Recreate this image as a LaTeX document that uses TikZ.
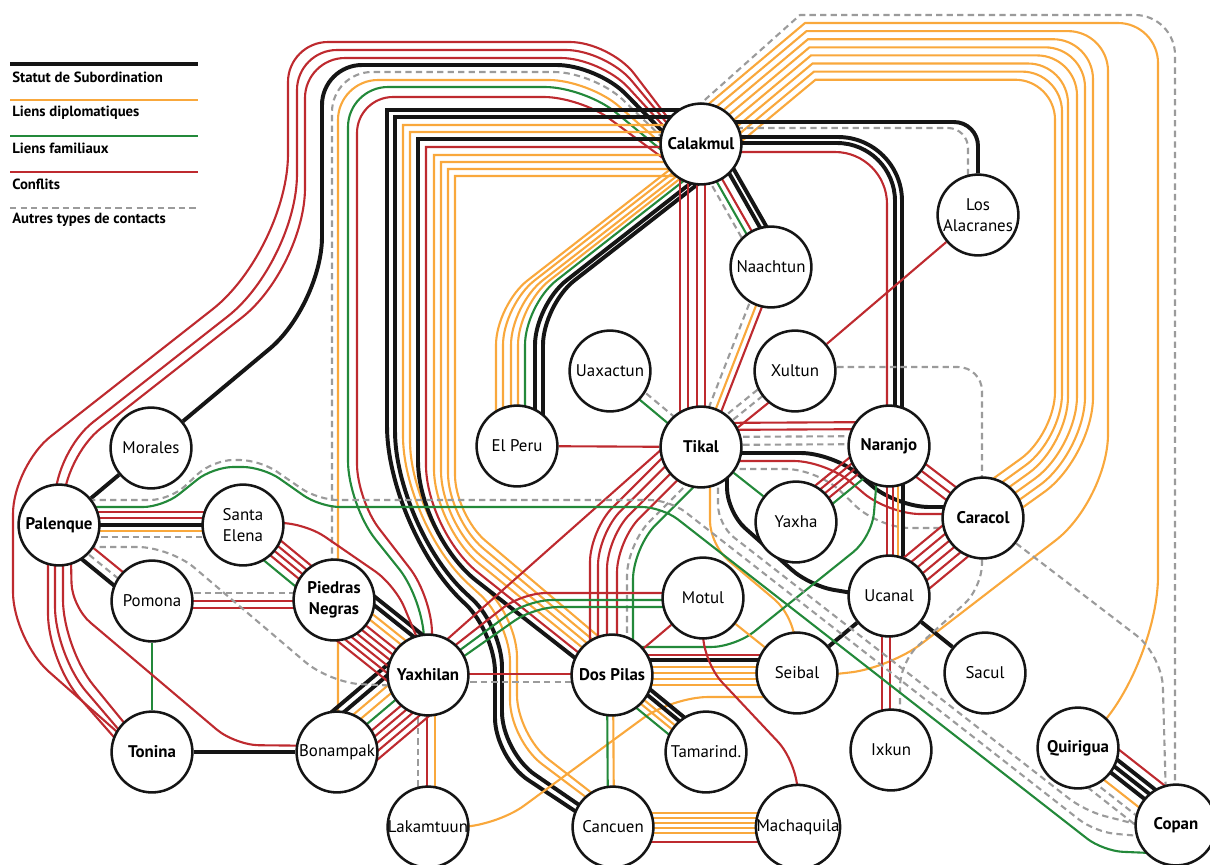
\documentclass[tikz,border=0pt]{standalone}
\usepackage{fontspec}
\setmainfont{PT Sans}
\usetikzlibrary{calc}
\definecolor{noir}{HTML}{151515}
\definecolor{orangeL}{HTML}{F9A83C}
\definecolor{vertL}{HTML}{23893A}
\definecolor{rougeL}{HTML}{BE2A2F}
\definecolor{grisL}{HTML}{9B9B9B}
\pgfdeclarelayer{liens}
\pgfsetlayers{liens,main}
\begin{document}
\begin{tikzpicture}[x=0.025cm, y=-0.025cm,
    subord/.style={draw=noir, line width=2.8pt},
    diplo/.style={draw=orangeL, line width=1.5pt},
    famil/.style={draw=vertL, line width=1.5pt},
    confl/.style={draw=rougeL, line width=1.5pt},
    autre/.style={draw=grisL, line width=1.5pt, dash pattern=on 4.5pt off 3pt},
    site/.style={circle, draw=noir, line width=1.8pt, fill=white, minimum size=2.02cm, inner sep=0pt, align=center, font=\fontsize{12}{15}\selectfont},
    capitale/.style={site, font=\fontsize{12}{15}\selectfont\bfseries},
    legende/.style={anchor=west, inner sep=0pt, font=\fontsize{10.5}{12}\selectfont\bfseries}]
                \useasboundingbox (0,0) rectangle (1210,864);

                % Legende
                \draw[subord] (10,64) -- (198,64);
                \node[legende] (lsub) at (12,77) {Statut de Subordination};
                \draw[diplo] (10,100) -- (198,100);
                \node[legende] (ldip) at (12,113) {Liens diplomatiques};
                \draw[famil] (10,136) -- (198,136);
                \node[legende] (lfam) at (12,148) {Liens familiaux};
                \draw[confl] (10,172) -- (198,172);
                \node[legende] (lcon) at (12,184) {Conflits};
                \draw[autre] (10,208) -- (198,208);
                \node[legende] (laut) at (12,220) {Autres types de contacts};

                % Sites
                \node[capitale] (cal) at (701,144) {Calakmul};
                \node[site] (lal) at (978,215) {Los\\Alacranes};
                \node[site] (nac) at (771,267) {Naachtun};
                \node[site] (uax) at (610,371) {Uaxactun};
                \node[site] (xul) at (795,371) {Xultun};
                \node[site] (elp) at (517,446) {El Peru};
                \node[capitale] (tik) at (701,447) {Tikal};
                \node[capitale] (nar) at (889,446) {Naranjo};
                \node[site] (mor) at (151,448) {Morales};
                \node[capitale] (pal) at (59,525) {Palenque};
                \node[site] (sel) at (243,525) {Santa\\Elena};
                \node[site] (yxa) at (796,522) {Yaxha};
                \node[capitale] (car) at (983,518) {Caracol};
                \node[site] (pom) at (152,601) {Pomona};
                \node[capitale] (pne) at (334,600) {Piedras\\Negras};
                \node[site] (mot) at (703,598) {Motul};
                \node[site] (uca) at (889,596) {Ucanal};
                \node[capitale] (yax) at (428,675) {Yaxhilan};
                \node[capitale] (dpi) at (612,675) {Dos Pilas};
                \node[site] (seb) at (797,673) {Seibal};
                \node[site] (sac) at (985,673) {Sacul};
                \node[capitale] (ton) at (152,752) {Tonina};
                \node[site] (bon) at (337,752) {Bonampak};
                \node[site] (tam) at (706,752) {Tamarind.};
                \node[site] (ixk) at (891,750) {Ixkun};
                \node[capitale] (qui) at (1078,748) {Quirigua};
                \node[site] (lak) at (428,827) {Lakamtuun};
                \node[site] (can) at (613,827) {Cancuen};
                \node[site] (mac) at (798,827) {Machaquila};
                \node[capitale] (cop) at (1176,825) {Copan};

                \begin{pgfonlayer}{liens}
                % Calakmul vers l'ouest
                \draw[confl] ($(cal)+(-30,-22)$) [rounded corners=1cm] -- (610,42) -- (288,42) [rounded corners=2.4cm] -- (288,250) [rounded corners=1.2cm] -- (13,466) -- (13,640) -- ($(ton)+(-28,-14)$);
                \draw[confl] ($(cal)+(-30,-16)$) [rounded corners=1cm] -- (606,50) -- (297,50) [rounded corners=2.2cm] -- (297,262) [rounded corners=1.2cm] -- (55,452) -- (55,655) -- ($(ton)+(-27,-15)$);
                \draw[confl] ($(cal)+(-30,-10)$) [rounded corners=1cm] -- (601,58) -- (305,58) [rounded corners=2cm] -- (305,268) [rounded corners=1.2cm] -- (63,458) -- (63,648) -- ($(ton)+(-22,-22)$);
                \draw[subord] ($(cal)+(-30,-4)$) [rounded corners=1cm] -- (597,65) -- (322,65) [rounded corners=1.7cm] -- (322,305) [rounded corners=1cm] -- (mor);
                \draw[autre] ($(cal)+(-30,2)$) [rounded corners=1cm] -- (594,72) -- (332,72) [rounded corners=1.5cm] -- ($(pne)+(-2,0)$);
                \draw[diplo] ($(cal)+(-30,8)$) [rounded corners=1cm] -- (589,80) -- (338,80) [rounded corners=1.3cm] -- ($(bon)+(1,0)$);
                \draw[famil] ($(cal)+(-30,14)$) [rounded corners=1cm] -- (585,87) -- (348,87) [rounded corners=1.1cm] -- (348,505) [rounded corners=1cm] -- (424,600) -- ($(yax)+(-4,0)$);
                \draw[confl] ($(cal)+(-30,20)$) [rounded corners=0.9cm] -- (580,97) -- (357,97) -- (357,500) -- (432,597) -- ($(yax)+(4,0)$);

                % Calakmul vers Cancuen et Dos Pilas
                \foreach \s/\yt/\xv/\rr/\ya/\xb/\yd/\yb/\ex/\ey in {subord/110/387/2.6/530/495/632/758/-32/-12, subord/117/395/2.4/527/502/627/752/-28/-18, diplo/125/403/2.2/524/510/622/740/-22/-26, diplo/132/410/2/521/517/617/735/-16/-30}
                    \draw[\s] ($(cal)+(-15,{\yt-144})$) -- (\xv,\yt) [rounded corners=\rr cm] -- (\xv,\ya) [rounded corners=1cm] -- (\xb,\yd) -- (\xb,\yb) -- ($(can)+(\ex,\ey)$);
                \foreach \s/\yt/\xv/\rr/\ya/\ex/\ey in {subord/139/418/1.85/535/-28/-10, confl/147/426/1.65/531/-24.5/-15.2, diplo/155/434/1.45/527/-21/-20.4, diplo/162/441/1.3/523/-17.5/-25.6, diplo/169/448/1.15/519/-14/-30.8, diplo/176/455/1/515/-10.5/-36}
                    \draw[\s] ($(cal)+(-15,{\yt-144})$) -- (\xv,\yt) [rounded corners=\rr cm] -- (\xv,\ya) [rounded corners=1.2cm] -- ($(dpi)+(\ex,\ey)$);

                % Calakmul - El Peru
                \foreach \s/\dx/\ex/\ey in {diplo/-21/-15/13, diplo/-14/-13/17, diplo/-6/-10/21, diplo/1/-8/24.5, famil/8/-6/28, subord/18/-1/32, subord/26/2/36}
                    \draw[\s, rounded corners=1cm] ($(elp)+(\dx,0)$) -- ({517+\dx},305) -- ($(cal)+(\ex,\ey)$);

                % Calakmul vers l'est
                \draw[autre] ($(cal)+(-12,-30)$) -- (800,15) [rounded corners=1cm] -- (1175,15) [rounded corners=2.5cm] -- ($(cop)+(-1,-20)$);
                \draw[diplo] ($(cal)+(-3,-31)$) -- (805,23) [rounded corners=1cm] -- (1158,23) [rounded corners=2.1cm] -- (1158,660) [rounded corners=1cm] -- ($(qui)+(22,-22)$);
                \draw[diplo] ($(cal)+(1.7,-25.7)$) -- (806.5,31.1) [rounded corners=1cm] -- (1108,31.1) [rounded corners=1.65cm] -- (1108,500) [rounded corners=1cm] -- (890,668) -- ($(seb)+(30,2)$);
                \foreach \k/\xr/\rr/\yc/\ex/\ey in {2/1093/1.5/457/25/0, 3/1085/1.4/452.6/20/-6.4, 4/1077/1.3/448.3/15/-12.8, 5/1068/1.2/444.8/10/-19.2, 6/1062/1.12/439/5/-25.6, 7/1055/1.05/434/0/-32}
                    \draw[diplo] ($(cal)+({-3+4.7*\k},{-31+5.3*\k})$) -- ({805+1.5*\k},{23+8.1*\k}) [rounded corners=1cm] -- (\xr,{23+8.1*\k}) [rounded corners=\rr cm] -- (\xr,\yc) [rounded corners=1cm] -- ($(car)+(\ex,\ey)$);
                \draw[subord, rounded corners=0.6cm] ($(cal)+(25,-22)$) -- (978,122) -- (lal);
                \draw[autre, rounded corners=0.5cm] ($(cal)+(25,-16)$) -- (968,128) -- ($(lal)+(-10,0)$);
                \draw[subord, rounded corners=1.6cm] ($(cal)+(30,-7)$) -- (902,137) -- ($(nar)+(13,0)$);
                \draw[subord, rounded corners=1.45cm] ($(cal)+(30,-1)$) -- (895,143) -- ($(nar)+(6,0)$);
                \draw[confl, rounded corners=1.3cm] ($(cal)+(30,8)$) -- (887,152) -- ($(nar)+(-2,0)$);

                % Calakmul - Tikal, Naachtun
                \foreach \dx in {-21,-13,-4,4}
                    \draw[confl] ($(cal)+(\dx,0)$) -- ($(tik)+(\dx,0)$);
                \foreach \s/\o in {autre/-11, famil/-5, confl/1, subord/10, subord/16}
                    \draw[\s] ($(cal)+({0.869*\o},{-0.495*\o})$) -- ($(nac)+({0.869*\o},{-0.495*\o})$);
                \foreach \s/\o in {autre/-7, diplo/0, confl/6}
                    \draw[\s] ($(nac)+({0.933*\o},{0.363*\o})$) -- ($(tik)+({0.933*\o},{0.363*\o})$);

                % Tikal
                \draw[confl] (elp) -- (tik);
                \foreach \s/\o in {famil/-3, autre/6}
                    \draw[\s] ($(uax)+({0.641*\o},{-0.767*\o})$) -- ($(tik)+({0.641*\o},{-0.767*\o})$);
                \foreach \s/\o in {autre/-9, autre/-1, confl/8}
                    \draw[\s] ($(tik)+({0.629*\o},{0.778*\o})$) -- ($(xul)+({0.629*\o},{0.778*\o})$);
                \draw[confl] (lal) -- (xul);
                \foreach \s/\o in {confl/-24, confl/-17, autre/-10, autre/-2}
                    \draw[\s] ($(tik)+(0,\o)$) -- ($(nar)+(0,\o)$);
                \draw[subord, rounded corners=0.8cm] ($(tik)+(30,6)$) -- (833,453) -- (897,507) -- ($(car)+(-20,-11)$);
                \draw[confl, rounded corners=0.8cm] ($(tik)+(30,14)$) -- (826,461) -- (888,514) -- ($(car)+(-20,-4)$);
                \draw[autre, rounded corners=0.8cm] ($(tik)+(28,22)$) -- (818,469) -- (878,528) -- ($(car)+(-20,10)$);
                \draw[subord, rounded corners=0.6cm] ($(tik)+(26,28)$) -- (727,512) -- (810,586) -- ($(uca)+(0,3)$);
                \draw[famil] (tik) -- (yxa);
                \draw[diplo, rounded corners=0.6cm] ($(tik)+(9,20)$) -- (710,545) -- (793,615) -- (seb);
                \foreach \s/\dx/\yc/\e in {confl/-22/530/-14, confl/-14/533.5/-8.25, confl/-5/537/-2, confl/5/540.5/4.75, autre/15/544/11.5, famil/21/547.5/16.25}
                    \draw[\s, rounded corners=0.8cm] ($(dpi)+(\dx,0)$) -- ({612+\dx},\yc) -- ($(tik)+(\e,\e)$);

                % Naranjo, Caracol, Ucanal
                \foreach \s/\o in {confl/-16, confl/-10, confl/-4, confl/2, famil/9}
                    \draw[\s] ($(nar)+({0.633*\o},{0.775*\o})$) -- ($(yxa)+({0.633*\o},{0.775*\o})$);
                \foreach \o in {-8,0,8}
                    \draw[confl] ($(nar)+({-0.608*\o},{0.794*\o})$) -- ($(car)+({-0.608*\o},{0.794*\o})$);
                \foreach \s/\dx in {confl/-2, confl/4, diplo/9, subord/14}
                    \draw[\s] ($(nar)+(\dx,0)$) -- ($(uca)+(\dx,0)$);
                \foreach \o in {-20,-12,-4,4,12,20}
                    \draw[confl] ($(car)+({0.64*\o},{0.77*\o})$) -- ($(uca)+({0.64*\o},{0.77*\o})$);
                \draw[famil, rounded corners=0.6cm] ($(dpi)+(25,-28)$) -- (735,647) -- (872,537) -- ($(nar)+(-12,30)$);
                \draw[subord] (seb) -- (uca);
                \draw[subord] (uca) -- (sac);
                \foreach \dx in {-7,1}
                    \draw[confl] ($(uca)+(\dx,0)$) -- ($(ixk)+({\dx-2},0)$);
                \draw[autre, rounded corners=0.6cm] ($(xul)+(0,-4)$) -- (982,367) -- (982,588) -- (900,662) -- ($(ixk)+(9,0)$);
                \draw[autre, rounded corners=0.8cm] (car) -- (1162,655) -- ($(cop)+(-10,-25)$);

                % Dos Pilas, Motul, Seibal
                \foreach \s/\o in {confl/-20, subord/-15, diplo/-8, diplo/-2, diplo/4, diplo/10}
                    \draw[\s] ($(dpi)+(0,\o)$) -- ($(seb)+(0,{\o+2})$);
                \draw[diplo, rounded corners=0.9cm] ($(lak)+(30,0)$) -- (495,827) -- (672,697) -- ($(seb)+(0,24)$);
                \foreach \s/\o in {subord/13, subord/7, diplo/1, diplo/-4, famil/-10}
                    \draw[\s] ($(dpi)+({0.634*\o},{-0.774*\o})$) -- ($(tam)+({0.634*\o},{-0.774*\o})$);
                \foreach \s/\dx in {famil/-5, diplo/1}
                    \draw[\s] ($(dpi)+(\dx,0)$) -- ($(can)+(\dx,0)$);
                \foreach \s/\o in {diplo/-14, diplo/-9, diplo/-4, diplo/1, diplo/6, confl/15}
                    \draw[\s] ($(can)+(0,\o)$) -- ($(mac)+(0,\o)$);
                \draw[confl, rounded corners=0.7cm] ($(mot)+(0,30)$) -- (703,662) -- (797,762) -- (mac);
                \draw[confl] (mot) -- (dpi);
                \draw[diplo] (mot) -- (seb);

                % Yaxhilan
                \draw[confl, rounded corners=0.6cm] ($(yax)+(25,-28)$) -- (522,593) -- ($(mot)+(0,-5)$);
                \draw[famil, rounded corners=0.6cm] ($(yax)+(28,-22)$) -- (528,600) -- ($(mot)+(0,2)$);
                \draw[famil, rounded corners=0.6cm] ($(yax)+(32,-16)$) -- (534,607) -- ($(mot)+(0,9)$);
                \draw[confl] ($(yax)+(15,-32)$) -- ($(tik)+(-12,-22)$);
                \draw[confl] ($(yax)+(0,-1)$) -- ($(dpi)+(0,-1)$);
                \draw[autre] ($(yax)+(0,7)$) -- ($(dpi)+(0,7)$);
                \foreach \s/\dx in {autre/-10, confl/-1, diplo/7}
                    \draw[\s] ($(yax)+(\dx,0)$) -- ($(lak)+(\dx,0)$);
                \foreach \s/\o in {subord/-34, subord/-26, diplo/-18, diplo/-10, famil/-2, confl/6, confl/12.5, confl/19, confl/25.5, confl/32}
                    \draw[\s] ($(bon)+({0.646*\o},{0.763*\o})$) -- ($(yax)+({0.646*\o},{0.763*\o})$);
                \foreach \s/\o in {subord/-28, subord/-21, diplo/-13, diplo/-7, confl/0, confl/6, confl/12, confl/18, confl/24, confl/30}
                    \draw[\s] ($(pne)+({-0.623*\o},{0.781*\o})$) -- ($(yax)+({-0.623*\o},{0.781*\o})$);

                % Palenque et voisins
                \foreach \s/\o in {confl/12, confl/6, confl/0, confl/-6, famil/-14}
                    \draw[\s] ($(sel)+({0.636*\o},{-0.772*\o})$) -- ($(pne)+({0.636*\o},{-0.772*\o})$);
                \draw[confl, rounded corners=0.6cm] ($(sel)+(35,-2)$) -- (305,523) -- (395,585) -- ($(yax)+(-8,-30)$);
                \foreach \s/\o in {autre/-8, confl/0, confl/7}
                    \draw[\s] ($(pom)+(0,\o)$) -- ($(pne)+(0,{\o+1})$);
                \draw[famil] (pom) -- (ton);
                \foreach \s/\o in {subord/-12, autre/-4, confl/4}
                    \draw[\s] ($(pal)+({0.633*\o},{-0.774*\o})$) -- ($(pom)+({0.633*\o},{-0.774*\o})$);
                \foreach \s/\o in {confl/-13, confl/-7, subord/0, diplo/6, autre/12}
                    \draw[\s] ($(pal)+(0,\o)$) -- ($(sel)+(0,\o)$);
                \draw[autre, rounded corners=0.8cm] ($(pal)+(30,22)$) -- (170,547) -- (330,683) -- ($(yax)+(0,12)$);
                \draw[confl, rounded corners=0.6cm] ($(pal)+(12,35)$) -- (72,607) -- (235,745) -- ($(bon)+(0,-6)$);
                \draw[confl, rounded corners=1.2cm] ($(pal)+(-11,0)$) -- (48,662) -- ($(ton)+(-32,-8)$);
                \draw[subord] (pal) -- (mor);
                \draw[subord] (ton) -- (bon);

                % Vers Copan
                \draw[famil, rounded corners=0.5cm] ($(pal)+(30,-18)$) -- (163,507) -- (213,467) -- (263,467) -- (320,507) -- (662,507) -- (1103,851) -- ($(cop)+(-25,28)$);
                \draw[autre, rounded corners=0.5cm] ($(pal)+(30,-25)$) -- (170,500) -- (213,460) -- (260,460) -- (318,500) -- (670,500) -- (1095,832) -- ($(cop)+(-25,12)$);
                \draw[autre, rounded corners=0.5cm] ($(tik)+(17,30)$) -- (718,525) -- (1085,811) -- ($(cop)+(-25,3)$);
                \foreach \s/\o in {confl/24, subord/15, subord/8, subord/1, diplo/-9, autre/-17, autre/-25}
                    \draw[\s] ($(qui)+({0.618*\o},{-0.786*\o})$) -- ($(cop)+({0.618*\o},{-0.786*\o})$);
                \end{pgfonlayer}
            \end{tikzpicture}
\end{document}
